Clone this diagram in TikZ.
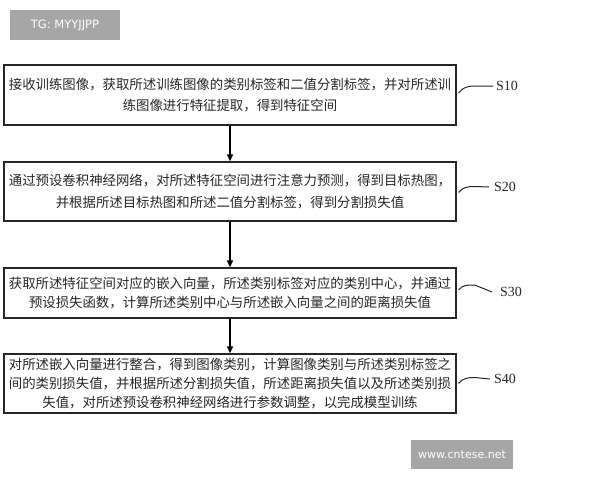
\documentclass[tikz,border=0pt]{standalone}
\usepackage{fontspec}
\newfontfamily\cjk{Noto Sans CJK SC}
\newfontfamily\tnr{Liberation Serif}
\newfontfamily\lsans{DejaVu Sans}
\usetikzlibrary{arrows.meta}
\definecolor{tagc}{HTML}{A6A6A6}
\definecolor{ink}{HTML}{262626}
\begin{document}
\begin{tikzpicture}[x=1pt,y=-1pt,
  stepbox/.style={draw=ink, line width=1.3pt, minimum width=452pt, inner sep=0pt, align=center, text=ink, font=\cjk\fontsize{13.4}{21}\selectfont},
  flow/.style={draw=black, line width=1.3pt, -{Triangle[length=7pt,width=6pt]}},
  slab/.style={anchor=west, inner sep=0pt, text=ink, font=\tnr\fontsize{14}{16}\selectfont},
  hook/.style={draw=ink, line width=1pt},
  tag/.style={fill=tagc, text=white, inner sep=0pt, font=\lsans\fontsize{11.5}{13}\selectfont}]
\useasboundingbox (0,0) rectangle (600,480);
\fill[white] (0,0) rectangle (600,480);
\node[tag, minimum width=110pt, minimum height=30pt] (tg) at (65,25) {TG: MYYJJPP};
\node[tag, minimum width=102pt, minimum height=29pt, font=\lsans\fontsize{11}{13}\selectfont] (wm) at (462,454.5) {www.cntese.net};

\node[stepbox, minimum height=60pt] (b1) at (230,95)
  {接收训练图像，获取所述训练图像的类别标签和二值分割标签，并对所述训\\练图像进行特征提取，得到特征空间};
\node[stepbox, minimum height=59pt, font=\cjk\fontsize{13.4}{22}\selectfont] (b2) at (230,191.5)
  {通过预设卷积神经网络，对所述特征空间进行注意力预测，得到目标热图，\\并根据所述目标热图和所述二值分割标签，得到分割损失值};
\node[stepbox, minimum height=50pt, font=\cjk\fontsize{13.4}{19.5}\selectfont] (b3) at (230,293)
  {获取所述特征空间对应的嵌入向量，所述类别标签对应的类别中心，并通过\\预设损失函数，计算所述类别中心与所述嵌入向量之间的距离损失值};
\node[stepbox, minimum height=59pt, font=\cjk\fontsize{13.4}{19}\selectfont] (b4) at (230,383.5)
  {对所述嵌入向量进行整合，得到图像类别，计算图像类别与所述类别标签之\\间的类别损失值，并根据所述分割损失值，所述距离损失值以及所述类别损\\失值，对所述预设卷积神经网络进行参数调整，以完成模型训练};

\draw[flow] (b1.south) -- (b2.north);
\draw[flow] (b2.south) -- (b3.north);
\draw[flow] (b3.south) -- (b4.north);

\node[slab] (s1) at (496,86) {S10};
\node[slab] (s2) at (494,187) {S20};
\node[slab] (s3) at (500,292) {S30};
\node[slab] (s4) at (494,379) {S40};

\coordinate (h1) at ([xshift=2pt,yshift=2pt]b1.east);
\coordinate (h2) at ([xshift=2pt,yshift=-1pt]b2.east);
\coordinate (h3) at ([xshift=2pt,yshift=3pt]b3.east);
\coordinate (h4) at ([xshift=2pt,yshift=0pt]b4.east);
\coordinate (e1) at ([xshift=-3pt]s1.west);
\coordinate (e2) at ([xshift=-5pt]s2.west);
\coordinate (e3) at ([xshift=-8pt]s3.west);
\coordinate (e4) at ([xshift=-4pt]s4.west);
\draw[hook] (h1) to[out=55,in=180] ++(16,-7) -- (e1);
\draw[hook] (h2) to[out=55,in=180] ++(16,-6) -- (e2);
\draw[hook] (h3) to[out=55,in=180] ++(16,-5) -- (e3);
\draw[hook] (h4) to[out=55,in=180] ++(16,-6) -- (e4);
\end{tikzpicture}
\end{document}
